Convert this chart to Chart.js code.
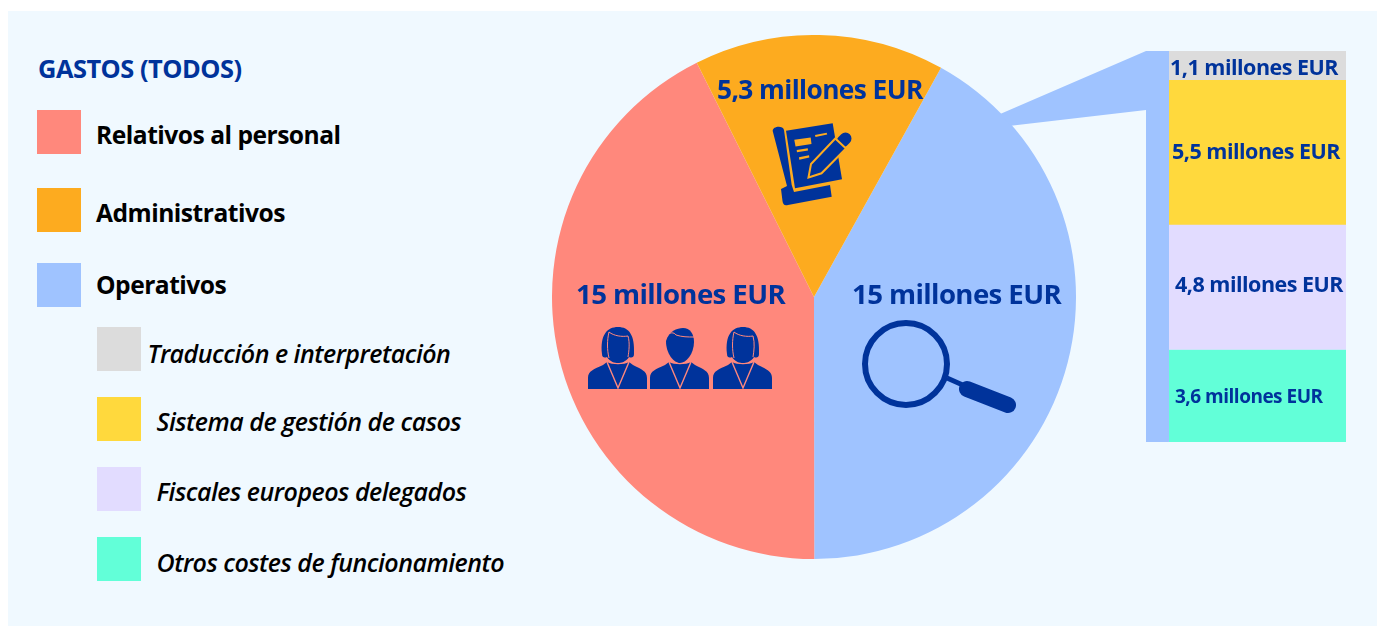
<!DOCTYPE html>
<html lang="es">
<head>
  <meta charset="UTF-8">
  <title>Gastos (todos)</title>
  <script src="https://cdn.jsdelivr.net/npm/chart.js"></script>
  <style>
    * { box-sizing: border-box; }
    body { margin: 0; background: #fff; width: 1379px; height: 626px; overflow: hidden; position: relative; font-family: 'Open Sans', sans-serif; }
    #panel { position: absolute; left: 8px; top: 11px; width: 1369px; height: 615px; background: #f0f9ff; }
    #pieWrap { position: absolute; left: 552px; top: 35px; width: 524px; height: 524px; }
    #barWrap { position: absolute; left: 990px; top: 40px; width: 389px; height: 410px; }
    #icons { position: absolute; left: 0; top: 0; pointer-events: none; }
    .swatch { position: absolute; width: 44px; height: 44px; }
    .leg { position: absolute; line-height: 30px; height: 30px; white-space: nowrap; color: #000; font-size: 24.6px; font-weight: 700; letter-spacing: -0.5px; }
    .leg.sub { font-style: italic; font-weight: 600; font-size: 25px; letter-spacing: -0.5px; }
    #title { position: absolute; left: 38px; top: 53px; line-height: 30px; color: #00339b; font-size: 25.4px; font-weight: 700; letter-spacing: -0.5px; white-space: nowrap; }
  </style>
</head>
<body>
  <div id="panel"></div>
  <div id="title">GASTOS (TODOS)</div>
  <div id="legend"></div>
  <div id="pieWrap"><canvas id="pie"></canvas></div>
  <div id="barWrap"><canvas id="bar"></canvas></div>
  <svg id="icons" width="1379" height="626" fill="#00339b">
    <defs>
      <g id="body">
        <path d="M0,62 V51 C0,44 6,42 15,38 L19,35 C24,38 36,38 41,35 L45,38 C53,42 59,44 59,51 V62 Z"/>
        <path d="M19,35 L30,61 L41,35" fill="none" stroke="#ff887c" stroke-width="1.4"/>
      </g>
      <g id="woman">
        <use href="#body"/>
        <path d="M14,27 C12,8 19,0 30,0 C41,0 47,8 46,27 C46,31 43,31 41,30 C38,35 33,36 30,36 C27,36 22,35 19,30 C17,31 14,31 14,27 Z"/>
        <path d="M21,5 C26,9 34,10 40,9 C42,16 41,24 40,30 M21,5 C19,13 19,23 21,31" fill="none" stroke="#ff887c" stroke-width="1"/>
      </g>
      <g id="man">
        <use href="#body"/>
        <path d="M16,14 C19,4 27,1 33,1 C40,1 44,7 44,15 C44,27 36,36 30,36 C24,36 16,27 16,14 Z"/>
        <path d="M15,9 C20,5 24,5 26,8 C32,10 38,10 44,10" fill="none" stroke="#ff887c" stroke-width="1"/>
      </g>
    </defs>
    <use href="#woman" x="588" y="327"/>
    <use href="#man" x="650" y="327"/>
    <use href="#woman" x="713" y="327"/>

    <!-- documento y lapiz -->
    <path d="M772.7,131 C772.5,126 783,125 784,130 L791.7,185 L794,192 L830,185 L831.7,196.7 L788,205 C784,206 783,204 782.5,201 L781,189 L787,186 Z"/>
    <path d="M786,130.7 L832.7,123.3 L842,179.3 L795,188.3 Z"/>
    <g fill="#fdab1f">
      <path d="M794.3,139.7 L810.7,137.5 L811.5,144 L795.5,146.5 Z"/>
      <path d="M815,135 L826.7,132.7 L827.2,134.5 L815.5,137 Z"/>
      <path d="M796.7,150 L807.7,148.3 L808,150.5 L797,152.3 Z"/>
      <path d="M799,157.3 L809,155.3 L809.3,157.5 L799.3,159.7 Z"/>
    </g>
    <path d="M842.5,141.5 L845.5,138.5" stroke="#00339b" stroke-width="12" stroke-linecap="round"/>
    <path d="M808.5,177.5 L811,164 L835.3,138.5 L846,148.5 L821.5,173.3 Z" stroke="#fdab1f" stroke-width="2"/>

    <!-- lupa -->
    <circle cx="906" cy="364" r="41" fill="none" stroke="#00339b" stroke-width="6"/>
    <path d="M947,378 L965,386" stroke="#00339b" stroke-width="5" fill="none"/>
    <path d="M967,389 L1008,405" stroke="#00339b" stroke-width="16" stroke-linecap="round" fill="none"/>
  </svg>
  <script>
    const pieCategories = ['Operativos', 'Relativos al personal', 'Administrativos'];
    const pieValues = [14.8, 15.05, 5.45];
    const pieLabels = ['15 millones EUR', '15 millones EUR', '5,3 millones EUR'];
    const pieColors = ['#9fc3ff', '#ff887c', '#fdab1f'];

    const barCategories = ['Traducción e interpretación', 'Sistema de gestión de casos', 'Fiscales europeos delegados', 'Otros costes de funcionamiento'];
    const barValues = [1.1, 5.55, 4.8, 3.55];
    const barLabels = ['1,1 millones EUR', '5,5 millones EUR', '4,8 millones EUR', '3,6 millones EUR'];
    const barColors = ['#dcdcdc', '#ffd93d', '#e2dcff', '#62ffd8'];

    const BLUE = '#00339b';
    Chart.defaults.animation = false;

    // legend, html on the left
    const legend = document.getElementById('legend');
    function addLegend(name, color, x, y, textX, baseY, sub) {
      const s = document.createElement('div');
      s.className = 'swatch';
      s.style.cssText = `left:${x}px;top:${y}px;background:${color}`;
      const t = document.createElement('div');
      t.className = sub ? 'leg sub' : 'leg';
      t.style.left = textX + 'px';
      t.style.top = (baseY - 24) + 'px';
      t.textContent = name;
      legend.append(s, t);
    }
    addLegend(pieCategories[1], pieColors[1], 37, 110, 96, 144);
    addLegend(pieCategories[2], pieColors[2], 37, 188, 96, 222);
    addLegend(pieCategories[0], pieColors[0], 37, 263, 96, 294);
    addLegend(barCategories[0], barColors[0], 97, 327, 147.5, 362, true);
    addLegend(barCategories[1], barColors[1], 97, 397, 156.5, 430, true);
    addLegend(barCategories[2], barColors[2], 97, 467, 156.5, 500, true);
    addLegend(barCategories[3], barColors[3], 97, 537, 156.5, 571, true);

    function drawText(ctx, text, x, y, size, spacing) {
      ctx.save();
      ctx.font = `700 ${size}px "Open Sans"`;
      ctx.letterSpacing = spacing + 'px';
      ctx.fillStyle = BLUE;
      ctx.textBaseline = 'alphabetic';
      ctx.fillText(text, x, y);
      ctx.restore();
    }

    // label baselines relative to the pie centre, then font size
    const pieLabelPos = [[38, 7, 27.6], [-238, 7, 27.6], [-97, -198, 26.3]];
    const pieText = {
      id: 'pieText',
      afterDatasetsDraw(chart) {
        chart.getDatasetMeta(0).data.forEach((arc, i) => {
          const p = pieLabelPos[i];
          drawText(chart.ctx, pieLabels[i], arc.x + p[0], arc.y + p[1], p[2], -0.6);
        });
      }
    };

    const pieChart = new Chart(document.getElementById('pie'), {
      type: 'pie',
      data: { labels: pieCategories, datasets: [{ data: pieValues, backgroundColor: pieColors, borderWidth: 0 }] },
      options: {
        responsive: true, maintainAspectRatio: false, rotation: 29,
        layout: { padding: 0 },
        plugins: { legend: { display: false }, tooltip: { enabled: false } }
      },
      plugins: [pieText]
    });

    // blue strip next to the bar + wedge coming out of the pie
    const wedge = {
      id: 'wedge',
      beforeDatasetsDraw(chart) {
        const a = chart.chartArea, c = chart.ctx, arc = pieChart.getDatasetMeta(0).data[0];
        const cx = arc.x + 552 - 990, cy = arc.y + 35 - 40, r = arc.outerRadius - 1;
        const onPie = deg => [cx + r * Math.sin(deg * Math.PI / 180), cy - r * Math.cos(deg * Math.PI / 180)];
        const p1 = onPie(45.5), p2 = onPie(49);
        const stripX = a.left - 23;
        c.save();
        c.fillStyle = pieColors[0];
        c.beginPath();
        c.moveTo(p1[0], p1[1]);
        c.lineTo(stripX, a.top);
        c.lineTo(a.left, a.top);
        c.lineTo(a.left, a.bottom);
        c.lineTo(stripX, a.bottom);
        c.lineTo(stripX, a.top + 59);
        c.lineTo(p2[0], p2[1]);
        c.closePath();
        c.fill();
        c.restore();
      }
    };

    const barLabelPos = [[1, 10, 21.5, -0.5], [3, 7, 21.5, -0.5], [6, 5, 21.5, -0.5], [6, 7, 19, -0.5]];
    const barText = {
      id: 'barText',
      afterDatasetsDraw(chart) {
        const a = chart.chartArea;
        barLabels.forEach((txt, i) => {
          const el = chart.getDatasetMeta(i).data[0];
          const p = barLabelPos[i];
          drawText(chart.ctx, txt, a.left + p[0], (el.y + el.base) / 2 + p[1], p[2], p[3]);
        });
      }
    };

    new Chart(document.getElementById('bar'), {
      type: 'bar',
      data: {
        labels: ['Operativos'],
        datasets: barCategories.map((name, i) => ({ label: name, data: [barValues[i]], backgroundColor: barColors[i], borderWidth: 0, barPercentage: 1, categoryPercentage: 1 }))
      },
      options: {
        responsive: true, maintainAspectRatio: false,
        layout: { padding: { left: 179, right: 33, top: 11, bottom: 8 } },
        scales: {
          x: { stacked: true, display: false },
          y: { stacked: true, display: false, reverse: true, min: 0, max: 15 }
        },
        plugins: { legend: { display: false }, tooltip: { enabled: false } }
      },
      plugins: [wedge, barText]
    });
  </script>
</body>
</html>
